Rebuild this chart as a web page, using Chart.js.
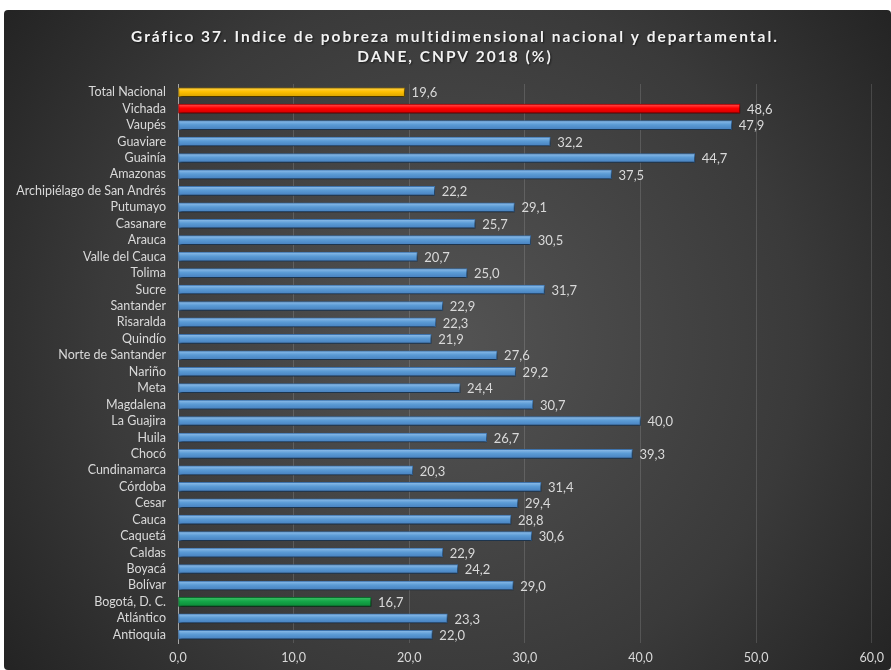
<!DOCTYPE html>
<html><head><meta charset="utf-8">
<script src="https://cdn.jsdelivr.net/npm/chart.js@4/dist/chart.umd.min.js"></script>
<style>
html,body{margin:0;padding:0;background:#fff;}
#wrap{position:absolute;left:0;top:0;width:891px;height:670px;}
</style></head>
<body><div id="wrap"><canvas id="c" width="891" height="670"></canvas></div>
<script>
const titleLines = ['Gráfico 37. Indice de pobreza multidimensional nacional y departamental.', 'DANE, CNPV 2018 (%)'];
const categories = ['Total Nacional','Vichada','Vaupés','Guaviare','Guainía','Amazonas','Archipiélago de San Andrés','Putumayo','Casanare','Arauca','Valle del Cauca','Tolima','Sucre','Santander','Risaralda','Quindío','Norte de Santander','Nariño','Meta','Magdalena','La Guajira','Huila','Chocó','Cundinamarca','Córdoba','Cesar','Cauca','Caquetá','Caldas','Boyacá','Bolívar','Bogotá, D. C.','Atlántico','Antioquia'];
const values = [19.6,48.6,47.9,32.2,44.7,37.5,22.2,29.1,25.7,30.5,20.7,25.0,31.7,22.9,22.3,21.9,27.6,29.2,24.4,30.7,40.0,26.7,39.3,20.3,31.4,29.4,28.8,30.6,22.9,24.2,29.0,16.7,23.3,22.0];
const highlight = {'Total Nacional':['#ffd24d','#ffc000','#d9a200'],'Vichada':['#ff5050','#ff0000','#d00000'],'Bogotá, D. C.':['#3cbf65','#14a648','#0c8a38']};
const blue = ['#8fbeea','#5b9bd5','#4680bf'];
const highlightBorder = {'Total Nacional':'#a07800','Vichada':'#a00000','Bogotá, D. C.':'#0b6e2e'};
const xMin = 0, xMax = 60, xStep = 10;

const fmt = v => v.toFixed(1).replace('.', ',');
const FONT = 'Lato, "Open Sans", sans-serif';

function fitSpacing(ctx, text, targetWidth) {
  ctx.letterSpacing = '0px';
  const w = ctx.measureText(text).width;
  return Math.max(0, (targetWidth - w) / text.length);
}

const bgPlugin = {
  id: 'bg',
  beforeDraw(chart) {
    const ctx = chart.ctx;
    ctx.save();
    ctx.fillStyle = '#ffffff';
    ctx.fillRect(0, 0, chart.width, chart.height);
    const g = ctx.createRadialGradient(450, 340, 20, 450, 340, 620);
    g.addColorStop(0, '#525252');
    g.addColorStop(0.55, '#3a3a3a');
    g.addColorStop(1, '#1c1c1c');
    ctx.fillStyle = g;
    ctx.beginPath();
    if (ctx.roundRect) ctx.roundRect(4, 10, chart.width - 4, chart.height - 10, 4);
    else ctx.rect(4, 10, chart.width - 4, chart.height - 10);
    ctx.fill();
    // title
    ctx.font = 'bold 15.5px ' + FONT;
    ctx.textAlign = 'center';
    ctx.textBaseline = 'middle';
    const sp = fitSpacing(ctx, titleLines[0], 648);
    ctx.letterSpacing = sp + 'px';
    ctx.shadowColor = 'rgba(0,0,0,0.6)';
    ctx.shadowBlur = 2;
    ctx.shadowOffsetX = 1;
    ctx.shadowOffsetY = 1;
    ctx.fillStyle = '#f2f2f2';
    ctx.fillText(titleLines[0], 454 + sp / 2, 37);
    ctx.fillText(titleLines[1], 454 + sp / 2, 57);
    ctx.restore();
  }
};

const shadowPlugin = {
  id: 'shadow',
  beforeDatasetsDraw(chart) {
    const ctx = chart.ctx;
    ctx.save();
    ctx.shadowColor = 'rgba(0,0,0,0.65)';
    ctx.shadowBlur = 3;
    ctx.shadowOffsetX = 1;
    ctx.shadowOffsetY = 2;
  },
  afterDatasetsDraw(chart) {
    chart.ctx.restore();
  }
};

const labelPlugin = {
  id: 'vlabels',
  afterDatasetsDraw(chart) {
    const ctx = chart.ctx;
    const meta = chart.getDatasetMeta(0);
    ctx.save();
    ctx.fillStyle = '#d9d9d9';
    ctx.font = '13px ' + FONT;
    ctx.textAlign = 'left';
    ctx.textBaseline = 'middle';
    meta.data.forEach((bar, i) => {
      ctx.fillText(fmt(values[i]), bar.x + 7, bar.y + 1);
    });
    ctx.restore();
  }
};

function barFill(context) {
  const chart = context.chart;
  const cat = categories[context.dataIndex];
  const stops = highlight[cat] || blue;
  const ys = chart.scales && chart.scales.y;
  if (!ys || ys.top === undefined || !isFinite(ys.getPixelForValue(context.dataIndex))) return stops[1];
  const y = ys.getPixelForValue(context.dataIndex);
  const g = chart.ctx.createLinearGradient(0, y - 4.5, 0, y + 4.5);
  g.addColorStop(0, stops[0]);
  g.addColorStop(0.45, stops[1]);
  g.addColorStop(1, stops[2]);
  return g;
}

const ctx = document.getElementById('c').getContext('2d');
const bdColors = categories.map(c => highlightBorder[c] || '#3f76b0');

new Chart(ctx, {
  type: 'bar',
  data: {
    labels: categories,
    datasets: [{
      data: values,
      backgroundColor: barFill,
      borderColor: bdColors,
      borderWidth: 1,
      borderSkipped: false,
      barThickness: 9
    }]
  },
  options: {
    indexAxis: 'y',
    responsive: false,
    animation: false,
    devicePixelRatio: 1,
    layout: { padding: { left: 0, right: 15, top: 84, bottom: 0 } },
    plugins: { legend: { display: false }, title: { display: false }, tooltip: { enabled: false } },
    scales: {
      x: {
        min: xMin, max: xMax,
        ticks: { stepSize: xStep, color: '#d9d9d9', font: { family: FONT, size: 12.5 }, padding: 7, callback: v => fmt(v) },
        grid: { color: 'rgba(255,255,255,0.14)', drawTicks: false },
        border: { display: false },
        afterFit: s => { s.height = 27; }
      },
      y: {
        ticks: { color: '#d9d9d9', font: { family: FONT, size: 12.5 }, padding: 12, autoSkip: false },
        grid: { display: false, drawTicks: false },
        border: { display: true, color: '#a6a6a6', width: 1 },
        afterFit: s => { s.width = 178; }
      }
    }
  },
  plugins: [bgPlugin, shadowPlugin, labelPlugin]
});
</script>
</body></html>
